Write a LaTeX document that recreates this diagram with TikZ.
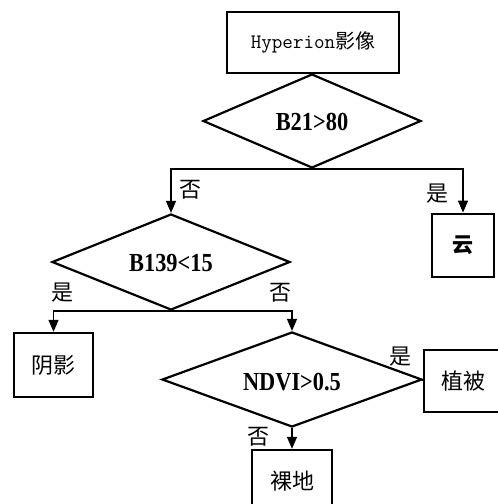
\documentclass[tikz,border=0pt]{standalone}
\usepackage{fontspec}
\usepackage{graphicx}
\setmainfont{Liberation Serif}
\newfontfamily\cjk{Noto Sans CJK SC}
\usetikzlibrary{shapes.geometric,arrows.meta}
\newcommand{\condtext}[1]{\scalebox{0.86}[1]{\fontsize{26}{26}\selectfont\bfseries #1}}
\begin{document}
\begin{tikzpicture}[x=1pt,y=-1pt,
  box/.style={draw,line width=2.4pt,inner sep=0pt,minimum width=#1},
  dia/.style={draw,diamond,line width=2.2pt,inner sep=0pt,aspect=2.3},
  cond/.style={inner sep=0pt},
  lab/.style={font=\cjk\fontsize{22}{22}\selectfont,inner sep=0pt},
  conn/.style={line width=1.3pt,-{Triangle[width=10pt,length=12pt]}},
  plain/.style={line width=1.3pt}]
\useasboundingbox (0,0) rectangle (498,504);
\node[box=172pt,minimum height=61pt] (top) at (313,42.5) {\ttfamily\fontsize{20.5}{20}\selectfont Hyperion{\cjk\fontsize{20}{20}\selectfont 影像}};
\node[dia,minimum width=218pt,minimum height=94pt] (d1) at (312,121) {};
\node[cond] (t1) at (312,122) {\condtext{B21>80}};
\node[dia,minimum width=238pt,minimum height=96pt] (d2) at (171,262) {};
\node[cond] (t2) at (171,263) {\condtext{B139<15}};
\node[dia,minimum width=260pt,minimum height=95pt] (d3) at (292,379.5) {};
\node[cond] (t3) at (292,382) {\condtext{NDVI>0.5}};
\node[box=62pt,minimum height=63pt,line width=2.8pt] (yun) at (463,245.5) {\cjk\fontsize{21}{21}\selectfont\bfseries 云};
\node[box=79pt,minimum height=64pt] (shadow) at (53.5,365) {\cjk\fontsize{22}{22}\selectfont 阴影};
\node[box=78pt,minimum height=62pt] (veg) at (463,381) {\cjk\fontsize{22}{22}\selectfont 植被};
\node[box=80pt,minimum height=62pt] (bare) at (292,481) {\cjk\fontsize{22}{22}\selectfont 裸地};
\draw[conn] (d1.south) -| (d2.north);
\draw[conn] (d1.south) -| (yun.north);
\draw[conn] (d2.south) -| (shadow.north);
\draw[conn] (d2.south) -| (d3.north);
\draw[plain] (d3.east) -- (veg.west);
\draw[conn] (d3.south) -- (bare.north);
\node[lab] (l1) at (190,190) {否};
\node[lab] (l2) at (437,194) {是};
\node[lab] (l3) at (63,293) {是};
\node[lab] (l4) at (280,293) {否};
\node[lab] (l5) at (400,357) {是};
\node[lab] (l6) at (258,437) {否};
\end{tikzpicture}
\end{document}
